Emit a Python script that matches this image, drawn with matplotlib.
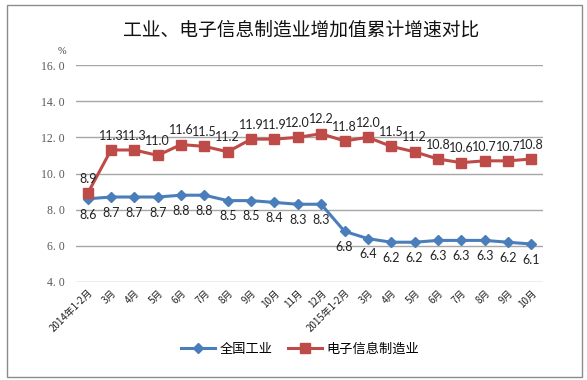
import matplotlib.pyplot as plt
from matplotlib.patches import Rectangle
from matplotlib.lines import Line2D

plt.rcParams['font.family'] = ['Noto Sans CJK SC', 'DejaVu Sans']

# 数据
months = ['2014年1-2月', '3月', '4月', '5月', '6月', '7月', '8月', '9月', '10月', '11月',
          '12月', '2015年1-2月', '3月', '4月', '5月', '6月', '7月', '8月', '9月', '10月']
industry = [8.6, 8.7, 8.7, 8.7, 8.8, 8.8, 8.5, 8.5, 8.4, 8.3,
            8.3, 6.8, 6.4, 6.2, 6.2, 6.3, 6.3, 6.3, 6.2, 6.1]
electronics = [8.9, 11.3, 11.3, 11.0, 11.6, 11.5, 11.2, 11.9, 11.9, 12.0,
               12.2, 11.8, 12.0, 11.5, 11.2, 10.8, 10.6, 10.7, 10.7, 10.8]
y_ticks = [4.0, 6.0, 8.0, 10.0, 12.0, 14.0, 16.0]

BLUE = '#4A7EBB'
RED = '#BE4B48'

fig = plt.figure(figsize=(5.87, 3.8), dpi=100)
fig.patches.append(Rectangle((7 / 587, 3 / 380), 575 / 587, 372 / 380, transform=fig.transFigure,
                             fill=False, edgecolor='#8C8C8C', linewidth=1.0))

ax = fig.add_axes([76 / 587, 1 - 282 / 380, 467 / 587, 217 / 380])
x = list(range(len(months)))

ax.plot(x, industry, color=BLUE, linewidth=2.2, marker='D', markersize=5, zorder=3)
ax.plot(x, electronics, color=RED, linewidth=2.2, marker='s', markersize=7, zorder=3)

for i, v in enumerate(electronics):
    ax.annotate(f'{v:.1f}', (i, v), xytext=(0, 6), textcoords='offset points',
                ha='center', va='bottom', fontsize=9, family='Lato', color='#222222')
for i, v in enumerate(industry):
    ax.annotate(f'{v:.1f}', (i, v), xytext=(0, -7), textcoords='offset points',
                ha='center', va='top', fontsize=9, family='Lato', color='#222222')

ax.set_xlim(-0.5, len(months) - 0.5)
ax.set_ylim(4, 16)
ax.set_yticks(y_ticks)
ax.set_yticklabels([f'{t:.0f}. 0' for t in y_ticks], family='Liberation Serif',
                   fontsize=8.5, color='#595959')
ax.set_xticks(x)
ax.set_xticklabels(months, rotation=45, ha='right', rotation_mode='anchor',
                   fontsize=7, color='#222222')
ax.tick_params(axis='both', length=0, pad=8)
ax.tick_params(axis='x', pad=4)
ax.grid(axis='y', color='#A6A6A6', linewidth=1.0)
ax.set_axisbelow(True)
for s in ax.spines.values():
    s.set_visible(False)

fig.text(62 / 587, 1 - 51 / 380, '%', fontsize=7.5, family='Liberation Serif', color='#404040',
         ha='center', va='center')
fig.text(301 / 587, 1 - 30 / 380, '工业、电子信息制造业增加值累计增速对比', fontsize=13.5,
         ha='center', va='center', color='#111111')

handles = [Line2D([], [], color=BLUE, linewidth=2.2, marker='D', markersize=5),
           Line2D([], [], color=RED, linewidth=2.2, marker='s', markersize=7)]
fig.legend(handles, ['全国工业', '电子信息制造业'], loc='center', bbox_to_anchor=(300 / 587, 1 - 349 / 380),
           ncol=2, frameon=False, fontsize=9.5, handlelength=2.6, columnspacing=1.2, handletextpad=0.3)

fig.savefig('out.png', dpi=100)
